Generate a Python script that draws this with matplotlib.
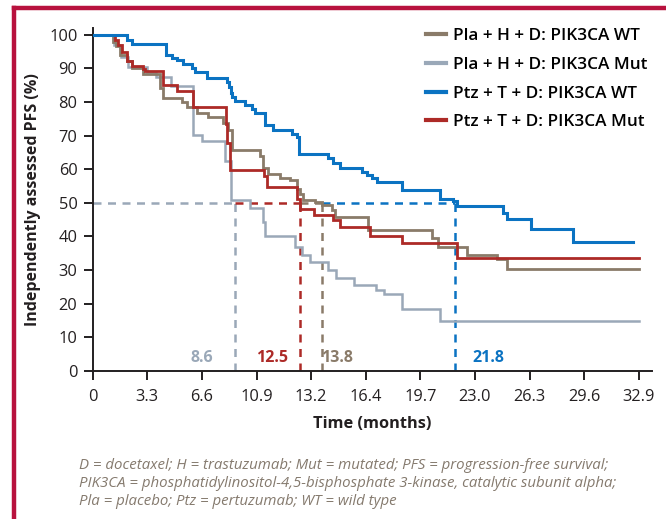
import matplotlib
matplotlib.use("Agg")
import matplotlib.pyplot as plt
from matplotlib.lines import Line2D

plt.rcParams["font.family"] = ["Open Sans", "DejaVu Sans"]

# Kaplan-Meier step data: event times (months) and PFS (%) after each event
blue_t = [0, 2.07, 2.35, 4.40, 4.76, 5.06, 5.46, 5.96, 6.16, 6.90,
          8.07, 8.22, 8.32, 8.42, 8.57, 9.17, 9.58, 9.78, 10.38, 10.88,
          11.99, 12.29, 12.45, 14.19, 14.49, 14.90, 16.20, 16.51, 16.81, 17.11,
          18.61, 20.92, 21.72, 21.96, 24.73, 24.94, 26.39, 28.95]
blue_v = [100, 98.5, 97.3, 94.0, 93.1, 92.4, 91.4, 90.1, 88.8, 87.1,
          85.9, 84.3, 82.8, 81.5, 80.2, 79.0, 77.9, 76.7, 73.2, 71.6,
          70.6, 69.6, 64.6, 63.3, 61.8, 60.3, 59.3, 58.3, 57.3, 56.3,
          53.9, 51.0, 50.4, 49.1, 46.9, 45.1, 42.3, 38.5]
blue_end = 32.57

red_t = [0, 1.34, 1.54, 1.75, 2.05, 2.35, 3.05, 3.15, 4.25, 5.06,
         6.06, 8.01, 8.12, 8.27, 10.32, 10.52, 12.29, 12.49, 13.36, 14.49,
         14.90, 16.70, 18.61, 21.93]
red_v = [100, 98.5, 97.0, 95.0, 92.1, 90.6, 89.9, 89.1, 85.1, 83.2,
         78.6, 73.5, 67.8, 59.8, 58.0, 54.8, 51.0, 48.3, 46.4, 44.9,
         42.8, 40.1, 38.0, 33.5]
red_end = 32.93

brown_t = [0, 1.24, 1.40, 1.64, 2.05, 2.35, 3.05, 4.05, 4.26, 5.36,
           5.66, 6.26, 6.96, 7.87, 8.17, 8.42, 10.08, 10.28, 10.58, 11.28,
           11.89, 12.29, 12.49, 12.69, 13.39, 13.79, 14.40, 14.60, 16.60, 20.42,
           20.82, 22.58, 24.34, 24.94]
brown_v = [100, 97.9, 96.5, 94.0, 92.1, 90.1, 88.4, 84.1, 81.2, 80.1,
           78.4, 76.8, 75.6, 73.7, 71.6, 65.7, 64.0, 60.3, 58.7, 57.5,
           56.8, 54.2, 52.7, 50.8, 50.2, 49.4, 47.8, 45.9, 41.9, 39.5,
           37.0, 34.4, 33.2, 30.4]
brown_end = 32.93

gray_t = [0, 1.30, 1.70, 2.10, 3.30, 3.80, 4.70, 6.04, 6.60, 7.95,
          8.35, 9.48, 10.28, 10.38, 12.19, 12.59, 13.09, 14.19, 14.65, 15.75,
          17.05, 17.55, 18.65, 20.90]
gray_v = [100, 96.8, 93.5, 90.4, 88.8, 87.3, 84.8, 70.3, 68.3, 62.5,
          50.8, 48.4, 44.4, 40.0, 37.0, 34.5, 32.5, 30.1, 27.7, 25.6,
          24.1, 23.0, 18.5, 15.0]
gray_end = 32.93

labels = ["Pla + H + D: PIK3CA WT", "Pla + H + D: PIK3CA Mut",
          "Ptz + T + D: PIK3CA WT", "Ptz + T + D: PIK3CA Mut"]

# median PFS per arm, left to right along the 50% line
median_vals = [8.6, 12.5, 13.8, 21.8]
median_text = ["8.6", "12.5", "13.8", "21.8"]

xtick_labels = ["0", "3.3", "6.6", "10.9", "13.2", "16.4", "19.7",
                "23.0", "26.3", "29.6", "32.9"]

footnote = ("D = docetaxel; H = trastuzumab; Mut = mutated; PFS = progression-free survival;\n"
            "PIK3CA = phosphatidylinositol-4,5-bisphosphate 3-kinase, catalytic subunit alpha;\n"
            "Pla = placebo; Ptz = pertuzumab; WT = wild type")

BROWN = "#8a7b69"
GRAY = "#9aa8b8"
BLUE = "#0b73c2"
RED = "#ad2a27"
INK = "#231f20"
median_colors = [GRAY, RED, BROWN, BLUE]
label_dx = [-24, -20, 11, 24]   # label offset from its median line, points

fig = plt.figure(figsize=(6.66, 5.19), dpi=100)
ax = fig.add_axes([0.1392, 0.2852, 0.8398, 0.6609])

# dashed median guides: horizontal at 50% then down to the axis
prev = 0
for m, c in zip(median_vals, median_colors):
    ax.plot([prev, m], [50, 50], color=c, lw=1.8, ls=(0, (3.2, 2.6)), zorder=1)
    ax.plot([m, m], [0, 50], color=c, lw=1.8, ls=(0, (3.2, 2.6)), zorder=1)
    prev = m

arms = [(gray_t, gray_v, gray_end, GRAY, 1.8),
        (brown_t, brown_v, brown_end, BROWN, 2.0),
        (red_t, red_v, red_end, RED, 2.0),
        (blue_t, blue_v, blue_end, BLUE, 2.2)]
for z, (t, v, end, c, lw) in enumerate(arms):
    ax.step(t + [end], v + [v[-1]], where="post", color=c, lw=lw,
            zorder=3 + z, solid_joinstyle="miter")

for m, txt, c, dx in zip(median_vals, median_text, median_colors, label_dx):
    ax.annotate(txt, xy=(m, 4), xytext=(dx, 0), textcoords="offset points",
                ha="center", va="center", color=c, fontsize=11.5,
                fontweight="bold")

ax.set_xlim(0, 33.7)
ax.set_ylim(0, 102)
ax.set_xticks([i * 3.29 for i in range(len(xtick_labels))])
ax.set_xticklabels(xtick_labels)
ax.set_yticks(range(0, 101, 10))
for s in ("top", "right"):
    ax.spines[s].set_visible(False)
for s in ("left", "bottom"):
    ax.spines[s].set_color(INK)
    ax.spines[s].set_linewidth(1.4)
ax.tick_params(axis="both", colors=INK, labelcolor=INK, labelsize=11.8,
               width=1.4, length=6.5)
ax.tick_params(axis="x", pad=6.5)
ax.tick_params(axis="y", pad=4.5)
ax.set_xlabel("Time (months)", fontsize=11.8, fontweight="bold", color=INK,
              labelpad=8)
ax.set_ylabel("Independently assessed PFS (%)", fontsize=11.5,
              fontweight="bold", color=INK, labelpad=6)

handles = [Line2D([], [], color=c, lw=3) for c in (BROWN, GRAY, BLUE, RED)]
fig.legend(handles, labels, loc="upper left", bbox_to_anchor=(0.6396, 0.946),
           frameon=False, handlelength=1.17, handletextpad=0.41,
           labelspacing=0.75, borderpad=0, borderaxespad=0,
           prop={"weight": "semibold", "size": 12.3})

fig.text(79 / 666, 1 - 458 / 519, footnote, ha="left", va="top",
         fontsize=10.8, style="italic", color="#857a6e", linespacing=1.27)

# frame accent along the top and left edges
fig.add_artist(Line2D([14 / 666, 1], [1 - 8 / 519] * 2, color="#b8123e",
                      lw=3.2, transform=fig.transFigure))
fig.add_artist(Line2D([14 / 666] * 2, [0, 1 - 8 / 519], color="#b8123e",
                      lw=3.2, transform=fig.transFigure))

fig.savefig("out.png", dpi=100)
